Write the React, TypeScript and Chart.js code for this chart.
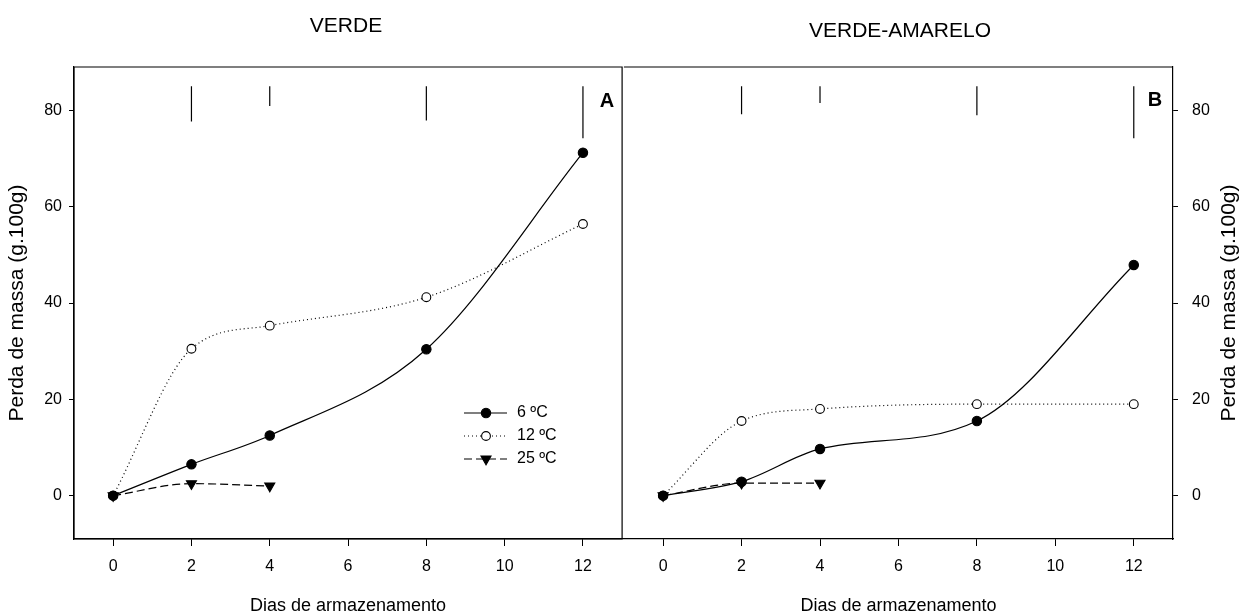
import { useEffect, useRef } from "react";
import { Chart, registerables } from "chart.js";
import { drawPoint } from "chart.js/helpers";

Chart.register(...registerables);

const FONT = '"Liberation Sans", Arial, Helvetica, sans-serif';

// Storage days and axis ticks
const days = [0, 2, 4, 8, 12];
const days25 = [0, 2, 4];
const xTicks = [0, 2, 4, 6, 8, 10, 12];
const yTicks = [0, 20, 40, 60, 80];

const legendLabels = ["6 ºC", "12 ºC", "25 ºC"];
const panelTitles = ["VERDE", "VERDE-AMARELO"];
const panelLetters = ["A", "B"];
const xTitle = "Dias de armazenamento";
const yTitle = "Perda de massa (g.100g)";

// Mass loss, VERDE
const verde6 = [0, 6.5, 12.5, 30.4, 71.2];
const verde12 = [0, 30.5, 35.3, 41.2, 56.4];
const verde25 = [0, 2.5, 2.0];

// Mass loss, VERDE-AMARELO
const amarelo6 = [0, 2.9, 9.7, 15.5, 47.9];
const amarelo12 = [0, 15.5, 18.0, 19.0, 19.0];
const amarelo25 = [0, 2.6, 2.6];

// Least-significant-difference bars hanging from the top of each panel
const barDays = [2, 4, 8, 12];
const barTop = 85;
const verdeBarLen = [7.3, 4.1, 7.1, 10.8];
const amareloBarLen = [5.8, 3.5, 6.0, 10.8];

const seriesStyle = [
  { borderDash: [], pointStyle: "circle", pointRadius: 4.7, pointBackgroundColor: "#000", pointRotation: 0 },
  { borderDash: [1, 3], pointStyle: "circle", pointRadius: 4.4, pointBackgroundColor: "#fff", pointRotation: 0 },
  { borderDash: [8, 4], pointStyle: "triangle", pointRadius: 5.8, pointBackgroundColor: "#000", pointRotation: 180 },
];

const toPts = (xs: number[], ys: number[]) => xs.map((x, i) => ({ x, y: ys[i] }));

const decor = {
  id: "decor",
  afterDraw(chart: any, _args: any, o: any) {
    const { ctx, chartArea: a } = chart;
    ctx.save();
    ctx.strokeStyle = "#000";
    ctx.lineWidth = 1.2;
    ctx.beginPath();
    if (o.fullFrame) {
      ctx.rect(a.left, a.top, a.right - a.left, a.bottom - a.top);
    } else {
      // the shared edge with the neighbouring panel is drawn once, by that panel
      ctx.moveTo(a.left, a.top);
      ctx.lineTo(a.right, a.top);
    }
    ctx.stroke();

    ctx.fillStyle = "#000";
    ctx.textAlign = "center";
    ctx.textBaseline = "middle";
    ctx.font = `21px ${FONT}`;
    ctx.fillText(o.title, o.titleX, o.titleY);

    ctx.font = `bold 20px ${FONT}`;
    ctx.fillText(o.letter, o.letterX, o.letterY);

    if (o.rightTitleX) {
      ctx.save();
      ctx.translate(o.rightTitleX, (a.top + a.bottom) / 2);
      ctx.rotate(-Math.PI / 2);
      ctx.font = `21px ${FONT}`;
      ctx.fillText(yTitle, 0, 0);
      ctx.restore();
    }

    if (o.legend) {
      const rows = [413, 436, 459];
      chart.data.datasets.slice(0, 3).forEach((ds: any, k: number) => {
        const y = rows[k];
        ctx.save();
        ctx.strokeStyle = "#000";
        ctx.lineWidth = ds.borderWidth;
        ctx.setLineDash(ds.borderDash);
        ctx.beginPath();
        ctx.moveTo(464, y);
        ctx.lineTo(507, y);
        ctx.stroke();
        ctx.setLineDash([]);
        ctx.fillStyle = ds.pointBackgroundColor;
        ctx.strokeStyle = "#000";
        ctx.lineWidth = ds.pointBorderWidth;
        drawPoint(
          ctx,
          { pointStyle: ds.pointStyle, radius: ds.pointRadius, rotation: ds.pointRotation, borderWidth: ds.pointBorderWidth },
          486,
          y
        );
        ctx.restore();
        ctx.fillStyle = "#000";
        ctx.textAlign = "left";
        ctx.textBaseline = "middle";
        ctx.font = `16px ${FONT}`;
        ctx.fillText(ds.label, 517, y);
      });
    }
    ctx.restore();
  },
};

function makeConfig(panel: number, s6: number[], s12: number[], s25: number[], barLen: number[], decorOpts: any): any {
  const isLeft = panel === 0;
  const series = [s6, s12, s25].map((ys, k) => ({
    label: legendLabels[k],
    data: toPts(k === 2 ? days25 : days, ys),
    borderColor: "#000",
    borderWidth: 1.2,
    cubicInterpolationMode: "monotone",
    pointBorderColor: "#000",
    pointBorderWidth: 1.1,
    ...seriesStyle[k],
  }));
  const bars = barDays.map((d, i) => ({
    label: "",
    data: [
      { x: d, y: barTop },
      { x: d, y: barTop - barLen[i] },
    ],
    borderColor: "#000",
    borderWidth: 1.2,
    pointRadius: 0,
    tension: 0,
  }));

  return {
    type: "line",
    data: { datasets: [...series, ...bars] },
    plugins: [decor],
    options: {
      animation: false,
      responsive: false,
      events: [],
      layout: { padding: { left: 0, top: 67, right: 0, bottom: 0 } },
      plugins: {
        legend: { display: false },
        tooltip: { enabled: false },
        decor: decorOpts,
      },
      scales: {
        x: {
          type: "linear",
          min: -1,
          max: 13,
          afterBuildTicks: (s: any) => {
            s.ticks = xTicks.map((v) => ({ value: v }));
          },
          afterFit: (s: any) => {
            s.height = 75;
          },
          ticks: { font: { size: 16, family: FONT }, color: "#000", padding: 11, maxRotation: 0, autoSkip: false },
          grid: { drawOnChartArea: false, drawTicks: true, tickLength: 7, color: "#000", lineWidth: 1 },
          border: { display: true, color: "#000", width: 1.2 },
          title: { display: true, text: xTitle, color: "#000", font: { size: 18, family: FONT }, padding: { top: 0, bottom: -3 } },
        },
        y: {
          type: "linear",
          position: isLeft ? "left" : "right",
          min: -9,
          max: 89,
          afterBuildTicks: (s: any) => {
            s.ticks = yTicks.map((v) => ({ value: v }));
          },
          afterFit: (s: any) => {
            s.width = isLeft ? 74 : 66;
          },
          ticks: { font: { size: 16, family: FONT }, color: "#000", padding: isLeft ? 7 : 14 },
          grid: { drawOnChartArea: false, drawTicks: true, tickLength: 5, color: "#000", lineWidth: 1 },
          border: { display: true, color: "#000", width: 1.2 },
          title: isLeft
            ? { display: true, text: yTitle, color: "#000", font: { size: 21, family: FONT }, padding: { top: 5, bottom: 0 } }
            : { display: false },
        },
      },
    },
  };
}

export default function App() {
  const leftRef = useRef<HTMLCanvasElement>(null);
  const rightRef = useRef<HTMLCanvasElement>(null);

  useEffect(() => {
    Chart.defaults.font.family = FONT;
    Chart.defaults.color = "#000";
    const c1 = new Chart(
      leftRef.current!,
      makeConfig(0, verde6, verde12, verde25, verdeBarLen, {
        title: panelTitles[0],
        titleX: 346,
        titleY: 26,
        letter: panelLetters[0],
        letterX: 607,
        letterY: 101,
        legend: true,
        fullFrame: true,
      })
    );
    const c2 = new Chart(
      rightRef.current!,
      makeConfig(1, amarelo6, amarelo12, amarelo25, amareloBarLen, {
        title: panelTitles[1],
        titleX: 283,
        titleY: 31,
        letter: panelLetters[1],
        letterX: 538,
        letterY: 100,
        rightTitleX: 612,
        legend: false,
        fullFrame: false,
      })
    );
    return () => {
      c1.destroy();
      c2.destroy();
    };
  }, []);

  return (
    <div style={{ position: "fixed", left: 0, top: 0, width: 1239, height: 614, background: "#fff" }}>
      <canvas ref={leftRef} width={629} height={614} style={{ position: "absolute", left: 0, top: 0 }} />
      <canvas ref={rightRef} width={622} height={614} style={{ position: "absolute", left: 617, top: 0 }} />
    </div>
  );
}
